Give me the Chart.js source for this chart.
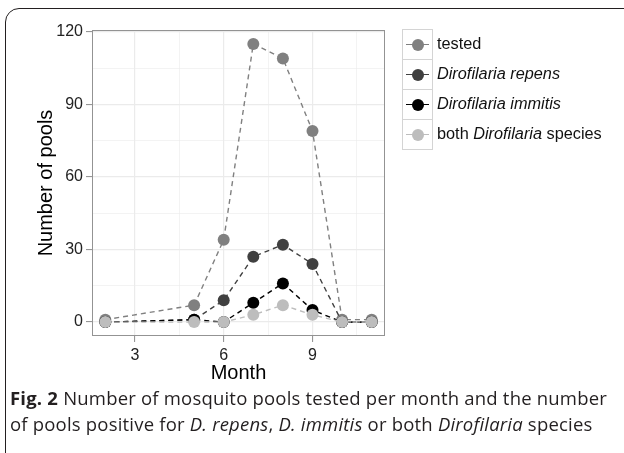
<!DOCTYPE html>
<html>
<head>
<meta charset="utf-8">
<script src="https://cdn.jsdelivr.net/npm/chart.js@4.4.1/dist/chart.umd.min.js"></script>
<style>
  body { margin: 0; width: 624px; height: 453px; overflow: hidden; background: #fff; position: relative; font-family: "Liberation Sans", Arial, sans-serif; }
  #frame { position: absolute; left: 5px; top: 8px; width: 700px; height: 500px; border: 1.6px solid #231f20; border-radius: 14px; }
  #chart { position: absolute; left: 0; top: 0; }
  #legend { position: absolute; left: 402px; top: 29px; }
  .row { position: relative; height: 30px; }
  .key { position: absolute; left: 0; top: 0; width: 29px; height: 29px; border: 1px solid #d4d4d4; background: #fff; }
  .key .ln { position: absolute; left: 3px; top: 14px; width: 23px; height: 1.4px; }
  .key .pt { position: absolute; left: 8.5px; top: 8.5px; width: 12px; height: 12px; border-radius: 50%; }
  .lab { position: absolute; left: 35px; top: 5px; font-size: 16.3px; color: #111; white-space: nowrap; }
  #caption { position: absolute; left: 10px; top: 385px; font-family: "Open Sans", sans-serif; font-size: 18.5px; line-height: 26px; color: #231f20; white-space: nowrap; letter-spacing: 0.2px; }
  #caption b { font-weight: 700; }
</style>
</head>
<body>
<div id="frame"></div>
<canvas id="chart" width="624" height="453"></canvas>
<div id="legend"></div>
<div id="caption"><b>Fig. 2</b> Number of mosquito pools tested per month and the number<br>of pools positive for <i>D. repens</i>, <i>D. immitis</i> or both <i>Dirofilaria</i> species</div>
<script>
const months = [2, 5, 6, 7, 8, 9, 10, 11];
const tested = [1, 7, 34, 115, 109, 79, 1, 1];
const repens = [0, 1, 9, 27, 32, 24, 0, 0];
const immitis = [0, 1, 0, 8, 16, 5, 0, 0];
const both = [0, 0, 0, 3, 7, 3, 0, 0];

const seriesNames = ['tested', '<i>Dirofilaria repens</i>', '<i>Dirofilaria immitis</i>', 'both <i>Dirofilaria</i> species'];
const seriesValues = [tested, repens, immitis, both];
const seriesColors = ['#808080', '#404040', '#000000', '#bdbdbd'];

const xTicks = [3, 4.5, 6, 7.5, 9, 10.5];
const xLabels = [3, 6, 9];
const yTicks = [0, 15, 30, 45, 60, 75, 90, 105, 120];
const yLabels = [0, 30, 60, 90, 120];

// legend (html, because of the italic parts)
const legend = document.getElementById('legend');
seriesNames.forEach((name, i) => {
    const row = document.createElement('div');
    row.className = 'row';
    row.innerHTML = '<div class="key"><div class="ln" style="background:' + seriesColors[i] + '"></div>' +
        '<div class="pt" style="background:' + seriesColors[i] + '"></div></div>' +
        '<div class="lab">' + name + '</div>';
    legend.appendChild(row);
});

// points first, dashed lines over them (like the original)
const datasets = [];
seriesValues.forEach((vals, i) => {
    datasets.push({
        data: months.map((m, j) => ({x: m, y: vals[j]})),
        showLine: false,
        pointRadius: 6,
        pointBackgroundColor: seriesColors[i],
        pointBorderWidth: 0,
        order: 20 - i * 2
    });
    datasets.push({
        data: months.map((m, j) => ({x: m, y: vals[j]})),
        borderColor: seriesColors[i],
        borderWidth: 1.4,
        borderDash: [5, 4],
        pointRadius: 0,
        order: 19 - i * 2
    });
});

const panelBorder = {
    id: 'panelBorder',
    afterDraw(chart) {
        const a = chart.chartArea;
        const ctx = chart.ctx;
        ctx.save();
        ctx.strokeStyle = '#939393';
        ctx.lineWidth = 1;
        ctx.strokeRect(a.left + 0.5, a.top + 0.5, a.right - a.left - 1, a.bottom - a.top - 1);
        ctx.restore();
    }
};

const isMajor = (list, v) => list.includes(v);

new Chart(document.getElementById('chart').getContext('2d'), {
    type: 'line',
    data: {datasets: datasets},
    options: {
        responsive: false,
        animation: false,
        layout: {autoPadding: false, padding: {left: 0, top: 30, right: 239, bottom: 67}},
        plugins: {legend: {display: false}, tooltip: {enabled: false}},
        scales: {
            x: {
                type: 'linear',
                min: 1.55,
                max: 11.45,
                afterBuildTicks: s => { s.ticks = xTicks.map(v => ({value: v})); },
                afterFit: s => { s.height = 50; },
                ticks: {
                    autoSkip: false,
                    maxRotation: 0,
                    padding: 4,
                    color: '#222',
                    font: {family: '"Liberation Sans", Arial, sans-serif', size: 16},
                    callback: v => isMajor(xLabels, v) ? String(v) : ''
                },
                grid: {
                    color: '#ebebeb',
                    lineWidth: c => isMajor(xLabels, c.tick && c.tick.value) ? 1.2 : 0.6,
                    tickLength: 6,
                    tickColor: c => isMajor(xLabels, c.tick && c.tick.value) ? '#8c8c8c' : 'rgba(0,0,0,0)',
                    tickWidth: 1
                },
                border: {display: false},
                title: {
                    display: true,
                    text: 'Month',
                    color: '#000',
                    font: {family: '"Liberation Sans", Arial, sans-serif', size: 20},
                    padding: {top: 0, bottom: 1}
                }
            },
            y: {
                min: -5.75,
                max: 120.75,
                afterBuildTicks: s => { s.ticks = yTicks.map(v => ({value: v})); },
                afterFit: s => { s.width = 92; },
                ticks: {
                    autoSkip: false,
                    padding: 3,
                    color: '#222',
                    font: {family: '"Liberation Sans", Arial, sans-serif', size: 16},
                    callback: v => isMajor(yLabels, v) ? String(v) : ''
                },
                grid: {
                    color: '#ebebeb',
                    lineWidth: c => isMajor(yLabels, c.tick && c.tick.value) ? 1.2 : 0.6,
                    tickLength: 6,
                    tickColor: c => isMajor(yLabels, c.tick && c.tick.value) ? '#8c8c8c' : 'rgba(0,0,0,0)',
                    tickWidth: 1
                },
                border: {display: false},
                title: {
                    display: true,
                    text: 'Number of pools',
                    color: '#000',
                    font: {family: '"Liberation Sans", Arial, sans-serif', size: 20},
                    padding: {top: 34, bottom: 0}
                }
            }
        }
    },
    plugins: [panelBorder]
});
</script>
</body>
</html>
